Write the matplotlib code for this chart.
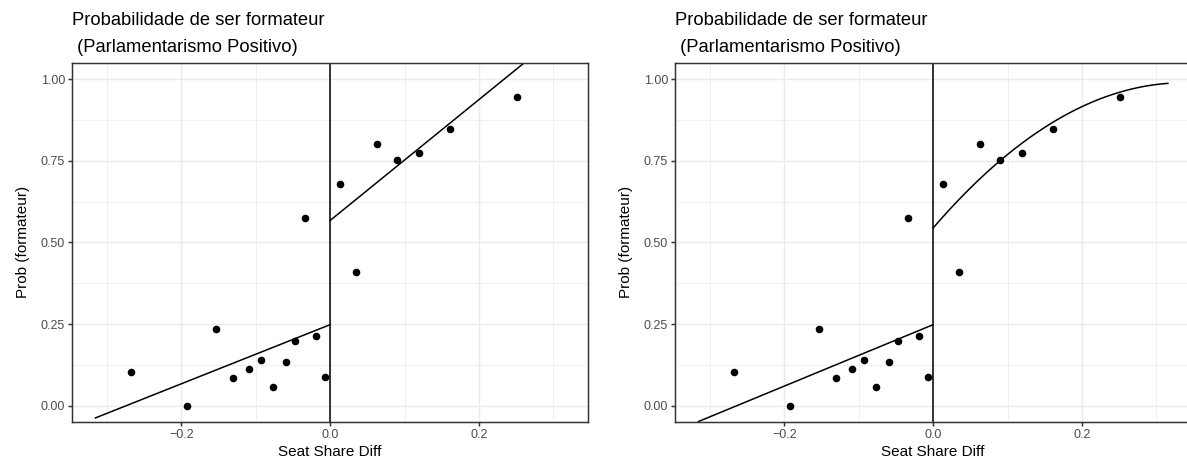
import numpy as np
import matplotlib
matplotlib.use("Agg")
import matplotlib.pyplot as plt

plt.rcParams["font.family"] = ["Liberation Sans", "DejaVu Sans"]

# binned means of the running variable and outcome
seat_diff = [-0.268, -0.192, -0.154, -0.130, -0.109, -0.093, -0.077, -0.059,
             -0.047, -0.034, -0.019, -0.007, 0.0135, 0.035, 0.0635, 0.0905,
             0.120, 0.161, 0.251]
prob_form = [0.104, 0.000, 0.236, 0.086, 0.113, 0.141, 0.058, 0.135,
             0.199, 0.574, 0.212, 0.089, 0.678, 0.408, 0.800, 0.752,
             0.773, 0.847, 0.945]

# range of the running variable used by the fits
x_lo, x_hi = -0.3155, 0.3155

# fitted coefficients (intercept, slope, quadratic) on each side of the cutoff
lin_left = [0.248, 0.905]
lin_right = [0.567, 1.85]
quad_left = [0.248, 0.94, 0.0]
quad_right = [0.544, 2.643, -3.93]

title = "Probabilidade de ser formateur\n (Parlamentarismo Positivo)"

fig = plt.figure(figsize=(11.87, 4.65), dpi=100)
ax1 = fig.add_axes([72 / 1187, 43 / 465, 516.3 / 1187, 359.3 / 465])
ax2 = fig.add_axes([675 / 1187, 43 / 465, 516.3 / 1187, 359.3 / 465])


def poly(coef, x):
    return coef[0] + coef[1] * x + coef[2] * x ** 2


def draw_panel(ax, left, right):
    ax.set_xlim(-0.347, 0.347)
    ax.set_ylim(-0.05, 1.05)
    ax.set_xticks([-0.2, 0.0, 0.2])
    ax.set_xticklabels(["\u22120.2", "0.0", "0.2"])
    ax.set_xticks([-0.3, -0.1, 0.1, 0.3], minor=True)
    ax.set_yticks([0, 0.25, 0.5, 0.75, 1.0])
    ax.set_yticklabels(["0.00", "0.25", "0.50", "0.75", "1.00"])
    ax.set_yticks([0.125, 0.375, 0.625, 0.875], minor=True)
    ax.grid(which="major", color="#EBEBEB", lw=1.07)
    ax.grid(which="minor", color="#EBEBEB", lw=0.53)
    ax.set_axisbelow(True)
    ax.tick_params(which="major", length=2.75, width=1.07, color="#333333",
                   labelsize=9, labelcolor="#4D4D4D", pad=2.2)
    ax.tick_params(which="minor", length=0)
    for s in ax.spines.values():
        s.set_color("#333333")
        s.set_linewidth(1.07)

    ax.axvline(0, color="black", lw=1.1)
    xl = np.linspace(x_lo, 0, 100)
    xr = np.linspace(0, x_hi, 100)
    ax.plot(xl, poly(left, xl), color="black", lw=1.1)
    ax.plot(xr, poly(right, xr), color="black", lw=1.1)
    ax.scatter(seat_diff, prob_form, s=20, color="black", zorder=3)

    ax.set_xlabel("Seat Share Diff", fontsize=11, labelpad=3)
    ax.set_ylabel("Prob (formateur)", fontsize=11, labelpad=8)
    ax.set_title(title, loc="left", fontsize=13.2, pad=8, linespacing=1.75)


draw_panel(ax1, lin_left + [0.0], lin_right + [0.0])
draw_panel(ax2, quad_left, quad_right)

fig.savefig("out.png", dpi=100)
